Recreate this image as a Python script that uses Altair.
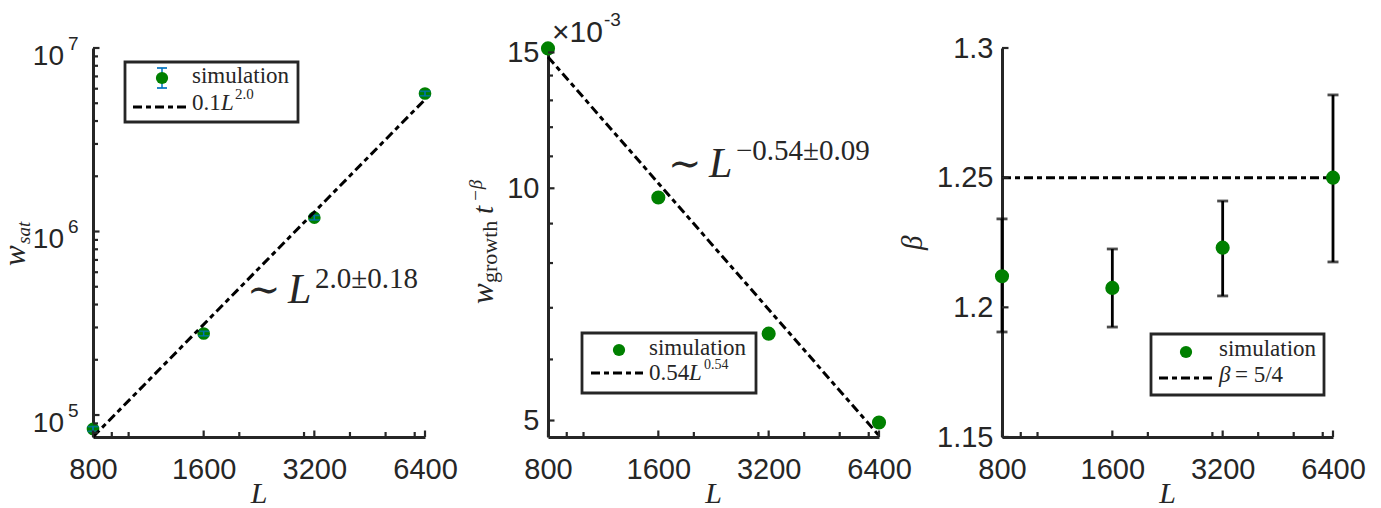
import altair as alt
import pandas as pd

# ---------------- data ----------------
L = [800, 1600, 3200, 6400]

wsat = [8.4e4, 2.78e5, 1.19e6, 5.65e6]
wsat_err = [2.5e3, 8.0e3, 3.4e4, 1.6e5]
fit1_L = [800, 6400]
fit1_w = [7.6e4, 5.24e6]

wgrowth = [15.18e-3, 9.73e-3, 6.48e-3, 4.97e-3]
fit2_L = [800, 6400]
fit2_w = [14.8e-3, 4.78e-3]

beta = [1.2120, 1.2075, 1.2230, 1.2500]
beta_lo = [1.1905, 1.1924, 1.2044, 1.2175]
beta_hi = [1.2341, 1.2225, 1.2410, 1.2819]
ref_L = [800, 6400]
ref_beta = [1.25, 1.25]

x_major = [800, 1600, 3200, 6400]
x_minor = [900, 1000, 2000, 3000, 4000, 5000, 6000]
y1_major = [1e5, 1e6, 1e7]
y1_exp = ["5", "6", "7"]
y1_minor = [8e4, 9e4, 2e5, 3e5, 4e5, 5e5, 6e5, 7e5, 8e5, 9e5,
            2e6, 3e6, 4e6, 5e6, 6e6, 7e6, 8e6, 9e6]
y2_major = [0.005, 0.010, 0.015]
y2_minor = [0.006, 0.007, 0.008, 0.009, 0.011, 0.012, 0.013, 0.014]
y3_major = [1.15, 1.20, 1.25, 1.30]

# ---------------- styles ----------------
GREEN = "#008000"
BLUE = "#0072BD"
INK = "#262626"
SANS = "Liberation Sans, Arial, sans-serif"
SERIF = "Liberation Serif, DejaVu Serif, serif"
DASH = [9, 4, 5, 4]
LW = 3
AXW = 3
TFS = 29
H = 389
W1, W2, W3 = 332, 331, 331

one = pd.DataFrame({"k": [0]})


def txt(s, x, y, size, font=SERIF, style="normal", align="left", angle=None, color=INK):
    kw = dict(text=s, fontSize=size, font=font, fontStyle=style, align=align,
              baseline="alphabetic", color=color)
    if angle is not None:
        kw["angle"] = angle
    return alt.Chart(one).mark_text(**kw).encode(x=alt.value(x), y=alt.value(y))


def xscale():
    return alt.Scale(type="log", domain=[800, 6400], nice=False, zero=False)


def xaxis():
    return alt.Axis(values=x_major, format="d", labelFlush=False, labelOverlap=False,
                    labelBound=False, ticks=False, grid=False, title=None,
                    labelFontSize=TFS, labelFont=SANS, labelColor=INK, labelPadding=18,
                    domainColor=INK, domainWidth=AXW)


def yaxis(values=None, expr=None, labels=True):
    kw = dict(ticks=False, grid=False, title=None, labelFontSize=TFS, labelFont=SANS,
              labelColor=INK, labelPadding=9, domainColor=INK, domainWidth=AXW,
              labelOverlap=False, labelBound=False, labelFlush=False, labels=labels)
    if values is not None:
        kw["values"] = values
    if expr is not None:
        kw["labelExpr"] = expr
    return alt.Axis(**kw)


def X(field):
    return alt.X(field, scale=xscale(), axis=xaxis())


def xticks():
    maj = alt.Chart(pd.DataFrame({"v": x_major})).mark_rule(color=INK, strokeWidth=2.2).encode(
        x=X("v:Q"), y=alt.value(H), y2=alt.value(H - 6.5))
    mnr = alt.Chart(pd.DataFrame({"v": x_minor})).mark_rule(color=INK, strokeWidth=2.2).encode(
        x=X("v:Q"), y=alt.value(H), y2=alt.value(H - 5))
    return [maj, mnr]


def yticks(vals, Y, length):
    return alt.Chart(pd.DataFrame({"v": vals})).mark_rule(color=INK, strokeWidth=2.2).encode(
        y=Y("v:Q"), x=alt.value(0), x2=alt.value(length))


def legend(x0, x1, y0, y1):
    return alt.Chart(one).mark_rect(fill="white", stroke=INK, strokeWidth=2.8).encode(
        x=alt.value(x0), x2=alt.value(x1), y=alt.value(y0), y2=alt.value(y1))


def leg_line(x0, x1, y):
    return alt.Chart(one).mark_rule(color="black", strokeWidth=LW, strokeDash=DASH).encode(
        x=alt.value(x0), x2=alt.value(x1), y=alt.value(y))


def leg_dot(x, y, size=150):
    return alt.Chart(one).mark_point(filled=True, size=size, color=GREEN, opacity=1).encode(
        x=alt.value(x), y=alt.value(y))


# ---------------- panel 1 ----------------
def Y1(field):
    return alt.Y(field, scale=alt.Scale(type="log", domain=[7.59e4, 1e7], nice=False, zero=False),
                 axis=yaxis(labels=False))


d1 = pd.DataFrame({"L": L, "w": wsat,
                   "lo": [a - b for a, b in zip(wsat, wsat_err)],
                   "hi": [a + b for a, b in zip(wsat, wsat_err)]})
f1 = pd.DataFrame({"L": fit1_L, "w": fit1_w})
lab1 = pd.DataFrame({"v": y1_major, "e": y1_exp})

dots1 = alt.Chart(d1).mark_point(filled=True, size=160, color=GREEN, opacity=1).encode(
    x=X("L:Q"), y=Y1("w:Q"))
err1 = alt.Chart(d1).mark_rule(color=BLUE, strokeWidth=1.5).encode(
    x=X("L:Q"), y=Y1("lo:Q"), y2="hi:Q")
caplo1 = alt.Chart(d1).mark_tick(orient="horizontal", size=11, thickness=1.7, color=BLUE).encode(
    x=X("L:Q"), y=Y1("lo:Q"))
caphi1 = alt.Chart(d1).mark_tick(orient="horizontal", size=11, thickness=1.7, color=BLUE).encode(
    x=X("L:Q"), y=Y1("hi:Q"))
line1 = alt.Chart(f1).mark_line(color="black", strokeWidth=LW, strokeDash=DASH).encode(
    x=X("L:Q"), y=Y1("w:Q"))
ten1 = alt.Chart(lab1).mark_text(text="10", align="right", baseline="alphabetic", dy=16.5,
                                 fontSize=28, font=SANS, color=INK).encode(
    y=Y1("v:Q"), x=alt.value(-29))
exp1 = alt.Chart(lab1).mark_text(align="left", baseline="alphabetic", dy=1.5,
                                 fontSize=19, font=SANS, color=INK).encode(
    y=Y1("v:Q"), x=alt.value(-25), text="e:N")

p1 = alt.layer(
    dots1, err1, caplo1, caphi1, line1,
    *xticks(), yticks(y1_major, Y1, 6.5), yticks(y1_minor, Y1, 5),
    ten1, exp1,
    txt("w", -68, 218, 31, style="italic", angle=270),
    txt("sat", -63, 196, 19, style="italic", angle=270),
    txt("L", W1 / 2, H + 66, 30, style="italic", align="center"),
    txt("\u223c", 154, 255, 40),
    txt("L", 195, 255, 42, style="italic"),
    txt("2.0\u00b10.18", 222, 240, 29),
    legend(32, 205, 14, 74),
    alt.Chart(one).mark_rule(color=BLUE, strokeWidth=1.5).encode(
        x=alt.value(69), y=alt.value(20), y2=alt.value(40)),
    alt.Chart(one).mark_rule(color=BLUE, strokeWidth=1.7).encode(
        x=alt.value(64), x2=alt.value(74), y=alt.value(20)),
    alt.Chart(one).mark_rule(color=BLUE, strokeWidth=1.7).encode(
        x=alt.value(64), x2=alt.value(74), y=alt.value(40)),
    leg_dot(69, 30),
    txt("simulation", 99, 35, 23),
    leg_line(40, 94, 59),
    txt("0.1", 99, 62, 23),
    txt("L", 128, 62, 23, style="italic"),
    txt("2.0", 142, 51, 15),
).properties(width=W1, height=H)

# ---------------- panel 2 ----------------
def Y2(field):
    return alt.Y(field, scale=alt.Scale(type="log", domain=[4.76e-3, 15.2e-3], nice=False, zero=False),
                 axis=yaxis(values=y2_major, expr="toString(round(datum.value*1000))"))


d2 = pd.DataFrame({"L": L, "w": wgrowth})
f2 = pd.DataFrame({"L": fit2_L, "w": fit2_w})

dots2 = alt.Chart(d2).mark_point(filled=True, size=200, color=GREEN, opacity=1).encode(
    x=X("L:Q"), y=Y2("w:Q"))
line2 = alt.Chart(f2).mark_line(color="black", strokeWidth=LW, strokeDash=DASH).encode(
    x=X("L:Q"), y=Y2("w:Q"))

p2 = alt.layer(
    dots2, line2,
    *xticks(), yticks(y2_major, Y2, 6.5), yticks(y2_minor, Y2, 5),
    txt("w", -55, 256, 31, style="italic", angle=270),
    txt("growth", -51, 235, 22, angle=270),
    txt("t", -55, 166, 29, style="italic", angle=270),
    txt("\u2212\u03b2", -66, 154, 19, style="italic", angle=270),
    txt("L", W2 / 2, H + 66, 30, style="italic", align="center"),
    txt("\u00d710", 4, -6, 30, font=SANS),
    txt("-3", 56, -22, 19, font=SANS),
    txt("\u223c", 120, 129, 40),
    txt("L", 161, 129, 42, style="italic"),
    txt("\u22120.54\u00b10.09", 188, 112, 29),
    legend(34, 208, 285, 345),
    leg_dot(71, 302),
    txt("simulation", 101, 307, 23),
    leg_line(43, 95, 325),
    txt("0.54", 101, 332, 23),
    txt("L", 141, 332, 23, style="italic"),
    txt("0.54", 156, 321, 14),
).properties(width=W2, height=H)

# ---------------- panel 3 ----------------
def Y3(field):
    return alt.Y(field, scale=alt.Scale(domain=[1.15, 1.30], nice=False, zero=False),
                 axis=yaxis(values=y3_major, expr="toString(round(datum.value*100)/100)"))


d3 = pd.DataFrame({"L": L, "b": beta, "lo": beta_lo, "hi": beta_hi})
f3 = pd.DataFrame({"L": ref_L, "b": ref_beta})

bars3 = alt.Chart(d3).mark_rule(color="black", strokeWidth=2.8).encode(
    x=X("L:Q"), y=Y3("lo:Q"), y2="hi:Q")
caplo3 = alt.Chart(d3).mark_tick(orient="horizontal", size=11, thickness=2.8, color="black").encode(
    x=X("L:Q"), y=Y3("lo:Q"))
caphi3 = alt.Chart(d3).mark_tick(orient="horizontal", size=11, thickness=2.8, color="black").encode(
    x=X("L:Q"), y=Y3("hi:Q"))
dots3 = alt.Chart(d3).mark_point(filled=True, size=200, color=GREEN, opacity=1).encode(
    x=X("L:Q"), y=Y3("b:Q"))
line3 = alt.Chart(f3).mark_line(color="black", strokeWidth=LW, strokeDash=DASH).encode(
    x=X("L:Q"), y=Y3("b:Q"))

p3 = alt.layer(
    bars3, caplo3, caphi3, line3, dots3,
    *xticks(), yticks(y3_major, Y3, 6.5),
    txt("\u03b2", -80, 202, 29, style="italic", angle=270),
    txt("L", W3 / 2, H + 66, 30, style="italic", align="center"),
    legend(149, 322, 286, 347),
    leg_dot(184, 304),
    txt("simulation", 217, 308, 23),
    leg_line(157, 210, 330),
    txt("\u03b2", 217, 334, 23, style="italic"),
    txt("= 5/4", 233, 334, 23),
).properties(width=W3, height=H)

chart = alt.hconcat(p1, p2, p3, spacing=123, bounds="flush").properties(
    padding={"left": -8, "top": 3, "right": 5, "bottom": 0},
    background="white",
).configure_view(stroke=None)

chart.save("out.html", embed_options={"renderer": "svg", "actions": False})
